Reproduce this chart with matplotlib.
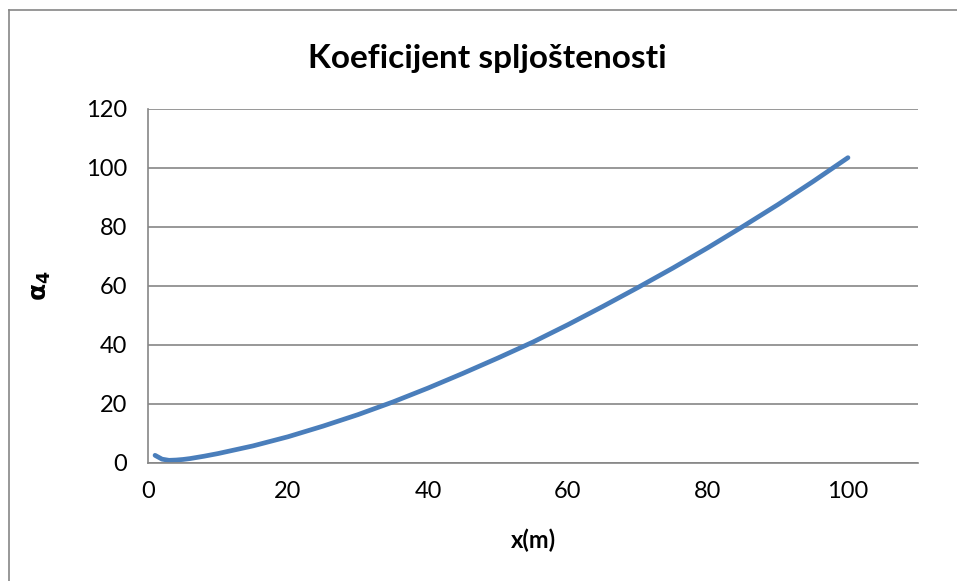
import numpy as np
import matplotlib.pyplot as plt
from matplotlib.lines import Line2D

plt.rcParams['font.family'] = ['Lato', 'DejaVu Sans']

# x (m) and kurtosis coefficient alpha_4
x_m = [1, 2, 3, 4, 5, 6, 8, 10, 15, 20, 25, 30, 35, 40, 45, 50,
       55, 60, 65, 70, 75, 80, 85, 90, 95, 100]
alpha4 = [2.6, 1.3, 0.9, 1.0, 1.2, 1.5, 2.3, 3.2, 5.8, 8.9, 12.5, 16.4,
          20.7, 25.4, 30.4, 35.6, 41.0, 46.9, 53.1, 59.5, 66.1, 73.0,
          80.2, 87.6, 95.4, 103.5]
x_ticks = [0, 20, 40, 60, 80, 100]
y_ticks = [0, 20, 40, 60, 80, 100, 120]

fig = plt.figure(figsize=(9.57, 5.81), dpi=100)
ax = fig.add_axes([0.1547, 0.2031, 0.8045, 0.6093])

ax.plot(x_m, alpha4, color='#4A7EBB', lw=3.4, solid_capstyle='round')

ax.set_xlim(0, 110)
ax.set_ylim(0, 120)
ax.set_xticks(x_ticks)
ax.set_yticks(y_ticks)
ax.tick_params(length=0, labelsize=17)
ax.tick_params(axis='x', pad=13)
ax.tick_params(axis='y', pad=15)
ax.grid(axis='y', color='#868686', lw=1.2)
ax.set_axisbelow(True)
for s in ['top', 'right']:
    ax.spines[s].set_visible(False)
for s in ['left', 'bottom']:
    ax.spines[s].set_color('#868686')
    ax.spines[s].set_linewidth(1.2)

ax.set_xlabel('x(m)', fontsize=17, fontweight='bold', labelpad=19)
ax.set_ylabel(r'$\mathbf{\alpha_4}$', fontsize=18, labelpad=24)
fig.text(0.509, 0.900, 'Koeficijent spljoštenosti', ha='center', va='center',
         fontsize=24, fontweight='bold')

# outer chart frame
fig.add_artist(Line2D([0.0094, 0.0094], [0, 0.983], color='#868686', lw=1.2,
                      transform=fig.transFigure))
fig.add_artist(Line2D([0.0094, 1], [0.983, 0.983], color='#868686', lw=1.2,
                      transform=fig.transFigure))

fig.savefig('out.png', dpi=100)
